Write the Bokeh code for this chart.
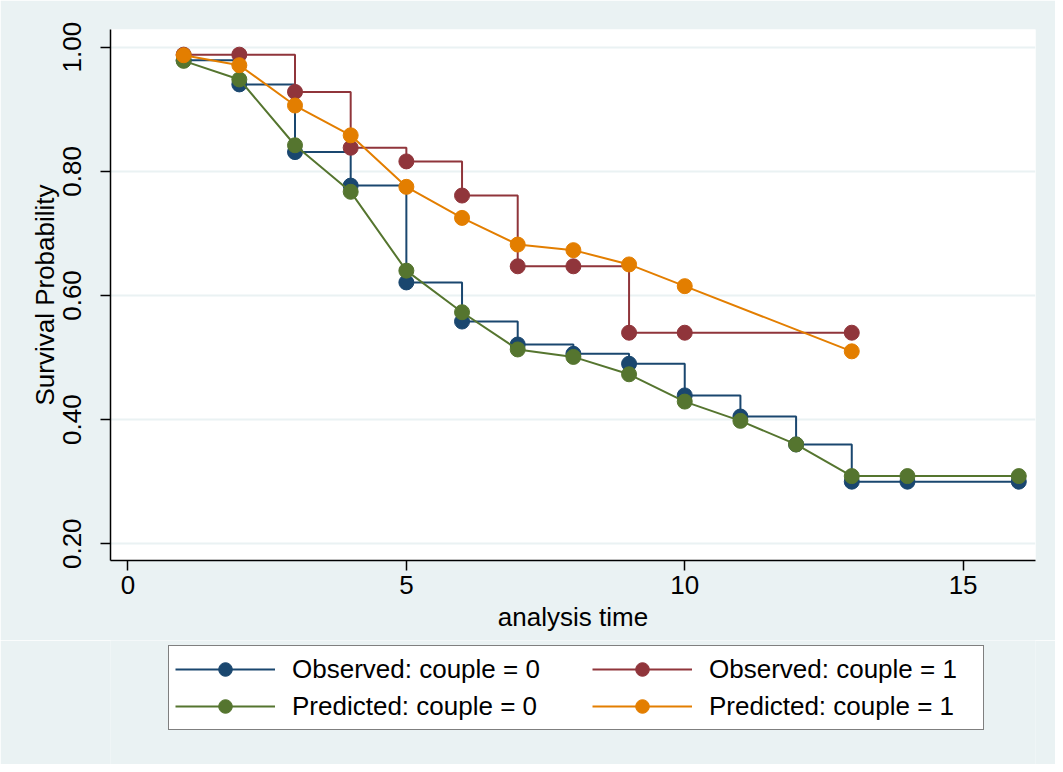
from bokeh.plotting import figure
from bokeh.layouts import column
from bokeh.models import Legend, LegendItem, Range1d, FixedTicker, NumeralTickFormatter
from bokeh.embed import file_html
from bokeh.resources import INLINE

# Observed (Kaplan-Meier) couple = 0
t_obs0 = [1, 2, 3, 4, 5, 6, 7, 8, 9, 10, 11, 12, 13, 14, 16]
s_obs0 = [0.979, 0.940, 0.831, 0.777, 0.621, 0.558, 0.521, 0.506, 0.490, 0.439, 0.405, 0.360, 0.300, 0.300, 0.300]
# Observed couple = 1
t_obs1 = [1, 2, 3, 4, 5, 6, 7, 8, 9, 10, 13]
s_obs1 = [0.988, 0.988, 0.928, 0.838, 0.816, 0.761, 0.647, 0.647, 0.540, 0.540, 0.540]
# Predicted couple = 0
t_pre0 = [1, 2, 3, 4, 5, 6, 7, 8, 9, 10, 11, 12, 13, 14, 16]
s_pre0 = [0.978, 0.948, 0.842, 0.767, 0.640, 0.573, 0.513, 0.501, 0.473, 0.429, 0.398, 0.360, 0.309, 0.309, 0.309]
# Predicted couple = 1
t_pre1 = [1, 2, 3, 4, 5, 6, 7, 8, 9, 10, 13]
s_pre1 = [0.987, 0.971, 0.906, 0.858, 0.775, 0.725, 0.682, 0.673, 0.650, 0.615, 0.510]

x_ticks = [0, 5, 10, 15]
y_ticks = [0.2, 0.4, 0.6, 0.8, 1.0]
labels = ["Observed: couple = 0", "Observed: couple = 1",
          "Predicted: couple = 0", "Predicted: couple = 1"]
colors = ["#1A476F", "#90353B", "#55752F", "#E37E00"]

BG = "#EAF2F3"
FONT = "Liberation Sans"
W = 1055

p = figure(width=W, height=640, output_backend="svg", toolbar_location=None,
           x_range=Range1d(-0.314, 16.30), y_range=Range1d(0.173, 1.0285),
           min_border_left=110, min_border_right=20, min_border_top=29, min_border_bottom=80)
p.border_fill_color = BG
p.background_fill_color = "white"
p.outline_line_color = None

series = [("step", t_obs0, s_obs0, colors[0]),
          ("step", t_obs1, s_obs1, colors[1]),
          ("line", t_pre0, s_pre0, colors[2]),
          ("line", t_pre1, s_pre1, colors[3])]

def draw(fig, kind, t, s, color):
    if kind == "step":
        r = fig.step(t, s, mode="after", line_color=color, line_width=2)
    else:
        r = fig.line(t, s, line_color=color, line_width=2)
    c = fig.scatter(t, s, size=15, color=color)
    return [r, c]

for kind, t, s, color in series:
    draw(p, kind, t, s, color)

p.xaxis.ticker = FixedTicker(ticks=x_ticks)
p.yaxis.ticker = FixedTicker(ticks=y_ticks)
p.yaxis.formatter = NumeralTickFormatter(format="0.00")
p.yaxis.major_label_orientation = "vertical"
for ax in (p.xaxis, p.yaxis):
    ax.axis_line_color = "black"
    ax.axis_line_width = 1.5
    ax.major_tick_line_color = "black"
    ax.major_tick_line_width = 1.5
    ax.major_tick_out = 10
    ax.major_tick_in = 0
    ax.minor_tick_line_color = None
    ax.major_label_text_font = FONT
    ax.major_label_text_font_size = "26px"
    ax.major_label_text_color = "black"
    ax.axis_label_text_font = FONT
    ax.axis_label_text_font_size = "26px"
    ax.axis_label_text_font_style = "normal"
    ax.axis_label_text_color = "black"
p.xaxis.axis_label = "analysis time"
p.yaxis.axis_label = "Survival Probability"
p.xaxis.major_label_standoff = 5
p.yaxis.major_label_standoff = 19
p.xaxis.axis_label_standoff = 5
p.yaxis.axis_label_standoff = 1

p.xgrid.visible = False
p.ygrid.grid_line_color = BG
p.ygrid.grid_line_width = 2

# legend strip below the plot (its frame is aligned with the main plot's frame);
# the same series are drawn there out of view, only to serve as legend glyphs
p2 = figure(width=W, height=124, output_backend="svg", toolbar_location=None,
            x_range=Range1d(-3, -2), y_range=Range1d(-3, -2), min_border=0,
            x_axis_location=None, y_axis_location=None)
p2.border_fill_color = BG
p2.background_fill_color = BG
p2.outline_line_color = None
p2.grid.visible = False

proxies = [draw(p2, kind, t, s, color) for kind, t, s, color in series]
items = [LegendItem(label=lab, renderers=r) for lab, r in zip(labels, proxies)]

common = dict(glyph_width=100, glyph_height=34, label_height=34, label_standoff=17,
              spacing=3, margin=0, orientation="vertical",
              label_text_font=FONT, label_text_font_size="26px", label_text_color="black",
              label_text_baseline="middle")

leg_a = Legend(items=[items[0], items[2]], location=(58, 34), label_width=685, padding=6,
               border_line_color="black", border_line_width=1.5,
               background_fill_color="white", background_fill_alpha=1.0, **common)
leg_b = Legend(items=[items[1], items[3]], location=(482, 41), padding=0,
               border_line_color=None, background_fill_alpha=0.0, **common)
p2.add_layout(leg_a, "center")
p2.add_layout(leg_b, "center")

layout = column(p, p2, spacing=0)
open("out.html", "w").write(file_html(layout, INLINE))
